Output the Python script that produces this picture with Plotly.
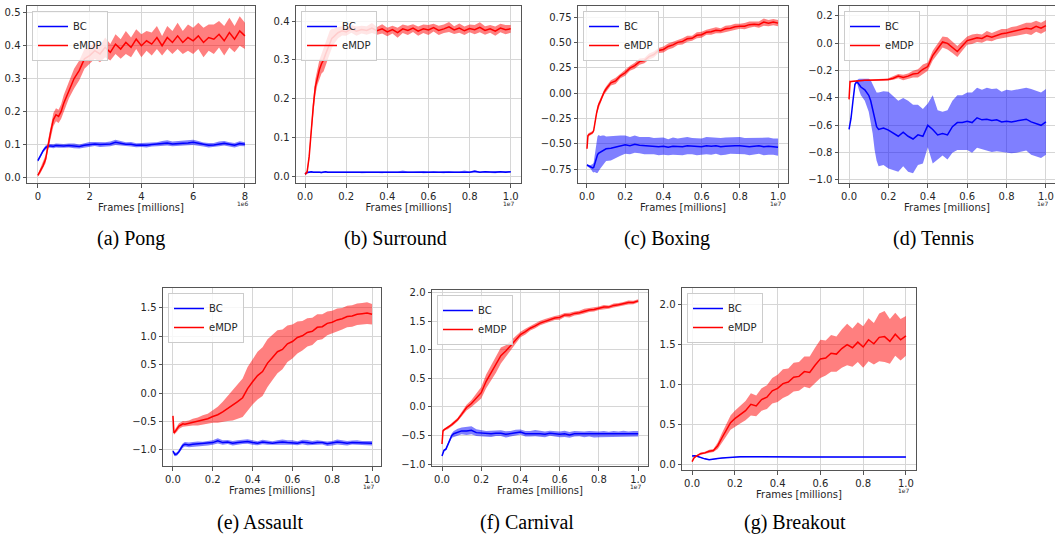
import plotly.graph_objects as go

W, H = 1055, 536

# ---------------- data ----------------
# (a) Pong, x in units of 1e6 frames
pong_x = [0, 0.1, 0.2, 0.3, 0.4, 0.5, 0.6, 0.7, 0.8, 0.9, 1.0,
          1.2, 1.4, 1.6, 1.8, 2.0, 2.2, 2.4, 2.6, 2.8, 3.0, 3.2, 3.4, 3.6, 3.8, 4.0,
          4.2, 4.4, 4.6, 4.8, 5.0, 5.2, 5.4, 5.6, 5.8, 6.0, 6.2, 6.4, 6.6, 6.8, 7.0,
          7.2, 7.4, 7.6, 7.8, 8.0]
pong_emdp = [0.005, 0.02, 0.035, 0.055, 0.10, 0.14, 0.175, 0.19, 0.185, 0.20, 0.225,
             0.265, 0.30, 0.325, 0.36, 0.37, 0.385, 0.375, 0.395, 0.38, 0.405, 0.39, 0.41, 0.395, 0.42,
             0.40, 0.415, 0.405, 0.425, 0.40, 0.425, 0.41, 0.43, 0.41, 0.425, 0.415, 0.43, 0.41, 0.425, 0.42,
             0.435, 0.415, 0.44, 0.42, 0.445, 0.43]
pong_emdp_sd = [0.004, 0.008, 0.01, 0.012, 0.015, 0.018, 0.02, 0.02, 0.02, 0.022, 0.025,
                0.025, 0.03, 0.03, 0.03, 0.025, 0.025, 0.025, 0.03, 0.025, 0.03, 0.03, 0.035, 0.03, 0.03, 0.035,
                0.03, 0.035, 0.035, 0.03, 0.035, 0.035, 0.04, 0.035, 0.04, 0.04, 0.04, 0.045, 0.04, 0.045, 0.04,
                0.045, 0.045, 0.04, 0.045, 0.04]
pong_bc = [0.05, 0.065, 0.08, 0.09, 0.095, 0.095, 0.094, 0.096, 0.095, 0.094, 0.095,
           0.096, 0.095, 0.093, 0.097, 0.10, 0.101, 0.099, 0.10, 0.101, 0.106, 0.103, 0.10, 0.10, 0.097, 0.098,
           0.097, 0.099, 0.10, 0.103, 0.104, 0.101, 0.103, 0.103, 0.104, 0.106, 0.103, 0.099, 0.097, 0.098, 0.101,
           0.103, 0.10, 0.097, 0.102, 0.10]
pong_bc_sd = [0.004, 0.005, 0.005, 0.006, 0.006, 0.006, 0.006, 0.006, 0.006, 0.006, 0.006,
              0.006, 0.007, 0.006, 0.006, 0.007, 0.006, 0.007, 0.006, 0.007, 0.008, 0.007, 0.006, 0.007, 0.006, 0.006,
              0.007, 0.006, 0.006, 0.007, 0.008, 0.007, 0.006, 0.007, 0.007, 0.008, 0.007, 0.006, 0.007, 0.006, 0.007,
              0.007, 0.006, 0.007, 0.007, 0.006]
pong_xticks = [0, 2, 4, 6, 8]
pong_yticks = [0.0, 0.1, 0.2, 0.3, 0.4, 0.5]

# (b) Surround, x in units of 1e7 frames
surr_x = [0, 0.01, 0.02, 0.03, 0.04, 0.05, 0.06, 0.07, 0.08, 0.09, 0.10, 0.11, 0.12, 0.13, 0.14, 0.16, 0.18, 0.20,
          0.225, 0.25, 0.275, 0.3, 0.325, 0.35, 0.375, 0.4, 0.425, 0.45, 0.475, 0.5, 0.525, 0.55, 0.575, 0.6,
          0.625, 0.65, 0.675, 0.7, 0.725, 0.75, 0.775, 0.8, 0.825, 0.85, 0.875, 0.9, 0.925, 0.95, 0.975, 1.0]
surr_emdp = [0.005, 0.01, 0.05, 0.12, 0.18, 0.23, 0.255, 0.275, 0.29, 0.30, 0.315, 0.33, 0.345, 0.355, 0.36, 0.37, 0.375, 0.372,
             0.38, 0.374, 0.378, 0.376, 0.382, 0.375, 0.38, 0.372, 0.378, 0.37, 0.38, 0.376, 0.382, 0.374, 0.38, 0.377,
             0.383, 0.376, 0.38, 0.385, 0.377, 0.382, 0.375, 0.381, 0.378, 0.384, 0.376, 0.38, 0.374, 0.382, 0.378, 0.38]
surr_emdp_sd = [0.003, 0.005, 0.01, 0.015, 0.02, 0.02, 0.02, 0.025, 0.025, 0.03, 0.03, 0.03, 0.03, 0.025, 0.02, 0.015, 0.012, 0.01,
                0.01, 0.012, 0.01, 0.011, 0.013, 0.01, 0.012, 0.011, 0.01, 0.013, 0.011, 0.012, 0.01, 0.012, 0.011, 0.013,
                0.01, 0.012, 0.011, 0.013, 0.01, 0.012, 0.011, 0.01, 0.012, 0.013, 0.011, 0.01, 0.012, 0.011, 0.012, 0.01]
surr_bc = [0.005, 0.009, 0.01, 0.011, 0.01, 0.01, 0.011, 0.01, 0.009, 0.01, 0.011, 0.01, 0.01, 0.011, 0.01, 0.01, 0.011, 0.01,
           0.01, 0.011, 0.01, 0.01, 0.011, 0.01, 0.01, 0.011, 0.01, 0.01, 0.011, 0.01, 0.01, 0.011, 0.01, 0.01,
           0.011, 0.01, 0.01, 0.011, 0.01, 0.01, 0.011, 0.01, 0.012, 0.01, 0.011, 0.01, 0.01, 0.011, 0.01, 0.011]
surr_bc_sd = [0.001, 0.002, 0.002, 0.002, 0.002, 0.002, 0.002, 0.002, 0.002, 0.002, 0.002, 0.002, 0.002, 0.002, 0.002, 0.002, 0.002, 0.002,
              0.002, 0.002, 0.003, 0.002, 0.002, 0.002, 0.003, 0.002, 0.002, 0.002, 0.003, 0.002, 0.002, 0.002, 0.003, 0.002,
              0.002, 0.002, 0.003, 0.002, 0.002, 0.002, 0.003, 0.002, 0.003, 0.002, 0.002, 0.002, 0.003, 0.002, 0.002, 0.002]
surr_yticks = [0.0, 0.1, 0.2, 0.3, 0.4]

frac_xticks = [0.0, 0.2, 0.4, 0.6, 0.8, 1.0]

# (c) Boxing
box_x = [0, 0.005, 0.01, 0.02, 0.03, 0.035, 0.04, 0.045, 0.05, 0.055, 0.06, 0.07, 0.08, 0.09, 0.10,
         0.125, 0.15, 0.175, 0.2, 0.225, 0.25, 0.275, 0.3, 0.325, 0.35, 0.375, 0.4, 0.425, 0.45, 0.475, 0.5,
         0.525, 0.55, 0.575, 0.6, 0.625, 0.65, 0.675, 0.7, 0.725, 0.75, 0.775, 0.8, 0.825, 0.85, 0.875, 0.9,
         0.925, 0.95, 0.975, 1.0]
box_emdp = [-0.55, -0.42, -0.41, -0.40, -0.39, -0.37, -0.30, -0.25, -0.20, -0.16, -0.12, -0.08, -0.03, 0.01, 0.04,
            0.10, 0.12, 0.17, 0.20, 0.245, 0.27, 0.31, 0.32, 0.36, 0.38, 0.42, 0.43, 0.46, 0.475, 0.50, 0.51,
            0.535, 0.54, 0.57, 0.575, 0.60, 0.605, 0.62, 0.615, 0.635, 0.64, 0.655, 0.66, 0.66, 0.675, 0.68, 0.675,
            0.70, 0.69, 0.70, 0.69]
box_emdp_sd = [0.01, 0.015, 0.015, 0.015, 0.015, 0.02, 0.02, 0.02, 0.02, 0.025, 0.025, 0.025, 0.025, 0.025, 0.025,
               0.025, 0.03, 0.025, 0.03, 0.025, 0.03, 0.03, 0.025, 0.03, 0.03, 0.025, 0.03, 0.03, 0.03, 0.025, 0.03,
               0.03, 0.025, 0.03, 0.03, 0.025, 0.03, 0.03, 0.025, 0.03, 0.03, 0.03, 0.025, 0.03, 0.03, 0.025, 0.03,
               0.035, 0.03, 0.03, 0.03]
box_bc = [-0.71, -0.72, -0.72, -0.73, -0.74, -0.735, -0.70, -0.66, -0.63, -0.61, -0.595, -0.585, -0.57, -0.56, -0.55,
          -0.545, -0.535, -0.52, -0.51, -0.52, -0.505, -0.515, -0.52, -0.52, -0.525, -0.53, -0.525, -0.535, -0.525, -0.53, -0.53,
          -0.52, -0.525, -0.53, -0.53, -0.52, -0.525, -0.52, -0.53, -0.525, -0.52, -0.52, -0.52, -0.525, -0.53, -0.525, -0.52,
          -0.53, -0.525, -0.53, -0.535]
box_bc_sd = [0.01, 0.01, 0.01, 0.02, 0.04, 0.05, 0.08, 0.12, 0.16, 0.18, 0.18, 0.16, 0.15, 0.14, 0.12,
             0.12, 0.11, 0.10, 0.09, 0.085, 0.085, 0.08, 0.085, 0.085, 0.08, 0.085, 0.085, 0.08, 0.085, 0.08, 0.085,
             0.085, 0.08, 0.085, 0.08, 0.085, 0.085, 0.08, 0.085, 0.085, 0.08, 0.085, 0.085, 0.08, 0.085, 0.085, 0.08,
             0.085, 0.085, 0.08, 0.085]
box_yticks = [-0.75, -0.5, -0.25, 0.0, 0.25, 0.5, 0.75]

# (d) Tennis
ten_x = [0, 0.005, 0.01, 0.02, 0.03, 0.04, 0.05, 0.06, 0.08, 0.10, 0.11, 0.12, 0.13, 0.14, 0.15,
         0.175, 0.2, 0.225, 0.25, 0.275, 0.3, 0.325, 0.35, 0.375, 0.4, 0.425, 0.45, 0.475, 0.5,
         0.525, 0.55, 0.575, 0.6, 0.625, 0.65, 0.675, 0.7, 0.725, 0.75, 0.775, 0.8, 0.825, 0.85, 0.875, 0.9,
         0.925, 0.95, 0.975, 1.0]
ten_emdp = [-0.41, -0.28, -0.28, -0.278, -0.276, -0.275, -0.274, -0.273, -0.271, -0.27, -0.27, -0.269, -0.268, -0.268, -0.267,
            -0.266, -0.264, -0.255, -0.24, -0.25, -0.24, -0.225, -0.22, -0.19, -0.17, -0.09, -0.04, 0.01, 0.0,
            -0.03, -0.06, -0.02, 0.02, 0.03, 0.04, 0.035, 0.055, 0.045, 0.06, 0.07, 0.075, 0.085, 0.09, 0.10, 0.11,
            0.105, 0.125, 0.11, 0.13]
ten_emdp_sd = [0.005, 0.005, 0.005, 0.005, 0.005, 0.005, 0.005, 0.005, 0.005, 0.005, 0.005, 0.005, 0.005, 0.005, 0.005,
               0.006, 0.008, 0.012, 0.015, 0.02, 0.02, 0.025, 0.03, 0.035, 0.03, 0.035, 0.04, 0.04, 0.045,
               0.04, 0.04, 0.035, 0.03, 0.035, 0.03, 0.03, 0.035, 0.03, 0.03, 0.035, 0.03, 0.035, 0.035, 0.04, 0.04,
               0.045, 0.04, 0.04, 0.04]
ten_bc = [-0.63, -0.60, -0.55, -0.42, -0.30, -0.28, -0.30, -0.32, -0.34, -0.38, -0.42, -0.48, -0.56, -0.61, -0.63,
          -0.62, -0.635, -0.66, -0.68, -0.65, -0.68, -0.70, -0.67, -0.68, -0.60, -0.63, -0.67, -0.66, -0.67,
          -0.61, -0.58, -0.58, -0.57, -0.58, -0.545, -0.56, -0.555, -0.565, -0.56, -0.575, -0.57, -0.575, -0.57, -0.565, -0.555,
          -0.575, -0.59, -0.60, -0.575]
ten_bc_sd = [0.005, 0.01, 0.01, 0.01, 0.01, 0.01, 0.04, 0.06, 0.08, 0.12, 0.15, 0.18, 0.22, 0.25, 0.27,
             0.27, 0.28, 0.27, 0.26, 0.25, 0.26, 0.25, 0.22, 0.2, 0.16, 0.25, 0.18, 0.16, 0.18,
             0.19, 0.2, 0.2, 0.21, 0.22, 0.22, 0.22, 0.23, 0.23, 0.23, 0.22, 0.23, 0.23, 0.23, 0.23, 0.23,
             0.24, 0.24, 0.24, 0.24]
ten_yticks = [-1.0, -0.8, -0.6, -0.4, -0.2, 0.0, 0.2]

# (e) Assault
ass_x = [0, 0.005, 0.01, 0.02, 0.03, 0.04, 0.05, 0.06, 0.08, 0.10,
         0.125, 0.15, 0.175, 0.2, 0.225, 0.25, 0.275, 0.3, 0.325, 0.35, 0.375, 0.4, 0.425, 0.45, 0.475, 0.5,
         0.525, 0.55, 0.575, 0.6, 0.625, 0.65, 0.675, 0.7, 0.725, 0.75, 0.775, 0.8, 0.825, 0.85, 0.875, 0.9,
         0.925, 0.95, 0.975, 1.0]
ass_emdp = [-0.40, -0.70, -0.68, -0.63, -0.58, -0.56, -0.54, -0.545, -0.53, -0.51,
            -0.50, -0.47, -0.45, -0.41, -0.38, -0.33, -0.27, -0.22, -0.15, -0.08, 0.08, 0.20, 0.31, 0.38, 0.53, 0.63,
            0.73, 0.77, 0.87, 0.91, 0.98, 1.01, 1.07, 1.09, 1.16, 1.17, 1.23, 1.25, 1.29, 1.31, 1.35, 1.36,
            1.39, 1.40, 1.41, 1.39]
ass_emdp_sd = [0.02, 0.03, 0.04, 0.05, 0.05, 0.05, 0.05, 0.05, 0.05, 0.06,
               0.07, 0.08, 0.09, 0.11, 0.14, 0.18, 0.22, 0.26, 0.30, 0.34, 0.38, 0.40, 0.42, 0.43, 0.42, 0.40,
               0.38, 0.35, 0.32, 0.30, 0.28, 0.26, 0.25, 0.24, 0.23, 0.22, 0.21, 0.20, 0.20, 0.19, 0.19, 0.19,
               0.19, 0.19, 0.19, 0.18]
ass_bc = [-1.02, -1.06, -1.08, -1.07, -1.03, -0.97, -0.92, -0.90, -0.91, -0.90,
          -0.89, -0.89, -0.88, -0.87, -0.84, -0.87, -0.86, -0.88, -0.87, -0.86, -0.85, -0.87, -0.88, -0.86, -0.87, -0.88,
          -0.87, -0.86, -0.87, -0.87, -0.88, -0.86, -0.87, -0.88, -0.87, -0.87, -0.89, -0.88, -0.86, -0.87, -0.88, -0.87,
          -0.87, -0.88, -0.88, -0.88]
ass_bc_sd = [0.02, 0.03, 0.03, 0.03, 0.03, 0.04, 0.04, 0.04, 0.04, 0.04,
             0.04, 0.035, 0.04, 0.04, 0.045, 0.04, 0.035, 0.04, 0.04, 0.035, 0.04, 0.04, 0.035, 0.04, 0.04, 0.035,
             0.04, 0.045, 0.04, 0.04, 0.035, 0.04, 0.045, 0.04, 0.04, 0.035, 0.04, 0.04, 0.045, 0.04, 0.04, 0.035,
             0.04, 0.04, 0.035, 0.04]
ass_yticks = [-1.0, -0.5, 0.0, 0.5, 1.0, 1.5]

# (f) Carnival
car_x = [0, 0.005, 0.01, 0.02, 0.03, 0.04, 0.05, 0.06, 0.08, 0.10,
         0.125, 0.15, 0.175, 0.2, 0.225, 0.25, 0.275, 0.3, 0.325, 0.35, 0.375, 0.4, 0.425, 0.45, 0.475, 0.5,
         0.525, 0.55, 0.575, 0.6, 0.625, 0.65, 0.675, 0.7, 0.725, 0.75, 0.775, 0.8, 0.825, 0.85, 0.875, 0.9,
         0.925, 0.95, 0.975, 1.0]
car_emdp = [-0.65, -0.42, -0.40, -0.38, -0.36, -0.34, -0.31, -0.28, -0.22, -0.13,
            -0.01, 0.06, 0.15, 0.25, 0.45, 0.60, 0.75, 0.90, 0.98, 1.08, 1.17, 1.27, 1.32, 1.38, 1.42, 1.47,
            1.50, 1.53, 1.56, 1.57, 1.61, 1.61, 1.64, 1.65, 1.68, 1.70, 1.71, 1.73, 1.75, 1.75, 1.78, 1.79,
            1.81, 1.83, 1.83, 1.86]
car_emdp_sd = [0.02, 0.02, 0.02, 0.02, 0.03, 0.03, 0.03, 0.03, 0.03, 0.04,
               0.05, 0.06, 0.08, 0.1, 0.12, 0.13, 0.15, 0.14, 0.1, 0.08, 0.06, 0.05, 0.05, 0.04, 0.04, 0.04,
               0.04, 0.04, 0.035, 0.04, 0.035, 0.04, 0.035, 0.035, 0.04, 0.035, 0.035, 0.03, 0.035, 0.03, 0.035, 0.03,
               0.03, 0.035, 0.03, 0.03]
car_bc = [-0.86, -0.80, -0.76, -0.74, -0.66, -0.57, -0.50, -0.47, -0.44, -0.42,
          -0.42, -0.41, -0.45, -0.46, -0.47, -0.47, -0.46, -0.46, -0.48, -0.47, -0.45, -0.44, -0.47, -0.47, -0.46, -0.47,
          -0.48, -0.46, -0.47, -0.48, -0.47, -0.49, -0.47, -0.47, -0.48, -0.47, -0.48, -0.48, -0.47, -0.48, -0.47, -0.48,
          -0.47, -0.48, -0.47, -0.47]
car_bc_sd = [0.01, 0.01, 0.02, 0.02, 0.03, 0.04, 0.04, 0.05, 0.06, 0.06,
             0.07, 0.07, 0.06, 0.06, 0.05, 0.055, 0.05, 0.05, 0.055, 0.05, 0.05, 0.045, 0.05, 0.05, 0.055, 0.05,
             0.05, 0.045, 0.05, 0.05, 0.055, 0.05, 0.05, 0.045, 0.05, 0.05, 0.055, 0.05, 0.05, 0.045, 0.05, 0.05,
             0.055, 0.05, 0.05, 0.05]
car_yticks = [-1.0, -0.5, 0.0, 0.5, 1.0, 1.5, 2.0]

# (g) Breakout
brk_x = [0, 0.01, 0.02, 0.04, 0.06, 0.08, 0.10, 0.12, 0.14, 0.16, 0.18, 0.20,
         0.225, 0.25, 0.275, 0.3, 0.325, 0.35, 0.375, 0.4, 0.425, 0.45, 0.475, 0.5,
         0.525, 0.55, 0.575, 0.6, 0.625, 0.65, 0.675, 0.7, 0.725, 0.75, 0.775, 0.8, 0.825, 0.85, 0.875, 0.9,
         0.925, 0.95, 0.975, 1.0]
brk_emdp = [0.03, 0.08, 0.10, 0.13, 0.14, 0.16, 0.17, 0.23, 0.33, 0.43, 0.52, 0.57,
            0.62, 0.67, 0.75, 0.73, 0.81, 0.84, 0.92, 0.95, 1.01, 1.03, 1.09, 1.10,
            1.16, 1.15, 1.24, 1.32, 1.33, 1.39, 1.38, 1.45, 1.50, 1.46, 1.53, 1.47, 1.56, 1.51, 1.59, 1.60,
            1.54, 1.63, 1.56, 1.61]
brk_emdp_sd = [0.01, 0.01, 0.01, 0.015, 0.015, 0.02, 0.02, 0.04, 0.06, 0.08, 0.09, 0.10,
               0.11, 0.12, 0.14, 0.13, 0.14, 0.15, 0.16, 0.17, 0.18, 0.17, 0.18, 0.18,
               0.19, 0.2, 0.22, 0.24, 0.22, 0.23, 0.22, 0.24, 0.26, 0.24, 0.25, 0.26, 0.27, 0.26, 0.3, 0.32,
               0.28, 0.27, 0.26, 0.25]
brk_bc = [0.10, 0.105, 0.10, 0.08, 0.065, 0.055, 0.065, 0.07, 0.075, 0.08, 0.085, 0.09,
          0.09, 0.091, 0.09, 0.09, 0.089, 0.088, 0.088, 0.087, 0.087, 0.087, 0.088, 0.088,
          0.089, 0.089, 0.09, 0.09, 0.089, 0.088, 0.087, 0.086, 0.087, 0.087, 0.088, 0.088, 0.087, 0.087, 0.088, 0.087,
          0.087, 0.088, 0.087, 0.087]
brk_bc_sd = [0.005, 0.005, 0.005, 0.004, 0.004, 0.004, 0.004, 0.004, 0.004, 0.004, 0.004, 0.004,
             0.004, 0.004, 0.004, 0.004, 0.004, 0.004, 0.004, 0.004, 0.004, 0.004, 0.004, 0.004,
             0.004, 0.004, 0.004, 0.004, 0.004, 0.004, 0.004, 0.004, 0.004, 0.004, 0.004, 0.004, 0.004, 0.004, 0.004, 0.004,
             0.004, 0.004, 0.004, 0.004]
brk_yticks = [0.0, 0.5, 1.0, 1.5, 2.0]

# ---------------- layout / style ----------------
BLUE, BLUE_FILL = "#0000ff", "rgba(0,0,255,0.5)"
RED, RED_FILL = "#ff0000", "rgba(255,0,0,0.5)"
GRID = "#d6d6d6"
SPINE = "#555555"
TXT = "#262626"
SANS = "DejaVu Sans"

panels = [
    dict(cap="(a) Pong", x=pong_x, bc=pong_bc, bc_sd=pong_bc_sd, em=pong_emdp, em_sd=pong_emdp_sd,
         frame=(27, 255, 6, 183), xr=[-0.42, 8.39], yr=[-0.018, 0.521], xt=pong_xticks, yt=pong_yticks,
         xf="d", yf=".1f", off="1e6", capxy=(131, 238)),
    dict(cap="(b) Surround", x=surr_x, bc=surr_bc, bc_sd=surr_bc_sd, em=surr_emdp, em_sd=surr_emdp_sd,
         frame=(296, 521, 6, 183), xr=[-0.044, 1.05], yr=[-0.018, 0.439], xt=frac_xticks, yt=surr_yticks,
         xf=".1f", yf=".1f", off="1e7", capxy=(395, 238)),
    dict(cap="(c) Boxing", x=box_x, bc=box_bc, bc_sd=box_bc_sd, em=box_emdp, em_sd=box_emdp_sd,
         frame=(578, 788, 6, 183), xr=[-0.047, 1.052], yr=[-0.888, 0.859], xt=frac_xticks, yt=box_yticks,
         xf=".1f", yf=".2f", off="1e7", capxy=(667, 238)),
    dict(cap="(d) Tennis", x=ten_x, bc=ten_bc, bc_sd=ten_bc_sd, em=ten_emdp, em_sd=ten_emdp_sd,
         frame=(839, 1055, 6, 183), xr=[-0.051, 1.046], yr=[-1.022, 0.273], xt=frac_xticks, yt=ten_yticks,
         xf=".1f", yf=".1f", off="1e7", capxy=(933, 238)),
    dict(cap="(e) Assault", x=ass_x, bc=ass_bc, bc_sd=ass_bc_sd, em=ass_emdp, em_sd=ass_emdp_sd,
         frame=(163, 381, 288, 466), xr=[-0.05, 1.045], yr=[-1.282, 1.852], xt=frac_xticks, yt=ass_yticks,
         xf=".1f", yf=".1f", off="1e7", capxy=(260, 522)),
    dict(cap="(f) Carnival", x=car_x, bc=car_bc, bc_sd=car_bc_sd, em=car_emdp, em_sd=car_emdp_sd,
         frame=(432, 648, 290, 466), xr=[-0.051, 1.05], yr=[-1.035, 2.05], xt=frac_xticks, yt=car_yticks,
         xf=".1f", yf=".1f", off="1e7", capxy=(527, 522)),
    dict(cap="(g) Breakout", x=brk_x, bc=brk_bc, bc_sd=brk_bc_sd, em=brk_emdp, em_sd=brk_emdp_sd,
         frame=(682, 916, 288, 470), xr=[-0.047, 1.047], yr=[-0.075, 2.21], xt=frac_xticks, yt=brk_yticks,
         xf=".1f", yf=".1f", off="1e7", capxy=(795, 522)),
]

for p in panels:
    n = len(p["x"])
    for k in ("bc", "bc_sd", "em", "em_sd"):
        assert len(p[k]) == n, (p["cap"], k, len(p[k]), n)

fig = go.Figure()
layout = {}
annotations = []

for i, p in enumerate(panels):
    n = i + 1
    sfx = "" if n == 1 else str(n)
    xa, ya = "x" + sfx, "y" + sfx
    leg = "legend" + sfx
    left, right, top, bottom = p["frame"]
    xs = p["x"]
    for name, m, sd, lc, fc in [("BC", p["bc"], p["bc_sd"], BLUE, BLUE_FILL),
                                ("eMDP", p["em"], p["em_sd"], RED, RED_FILL)]:
        up = [a + b for a, b in zip(m, sd)]
        lo = [a - b for a, b in zip(m, sd)]
        fig.add_trace(go.Scatter(x=xs + xs[::-1], y=up + lo[::-1], fill="toself", fillcolor=fc,
                                 line=dict(width=0), mode="lines", hoverinfo="skip", showlegend=False,
                                 xaxis=xa, yaxis=ya))
        fig.add_trace(go.Scatter(x=xs, y=m, mode="lines", line=dict(color=lc, width=1.5),
                                 name=name, legend=leg, xaxis=xa, yaxis=ya))

    common = dict(showgrid=True, gridcolor=GRID, gridwidth=1, showline=True, mirror=True,
                  linecolor=SPINE, linewidth=1, ticks="outside", ticklen=3.5, tickcolor=SPINE,
                  tickfont=dict(size=10, family=SANS, color=TXT), zeroline=False, automargin=False)
    layout["xaxis" + sfx] = dict(common, domain=[left / W, right / W], range=p["xr"], anchor=ya,
                                 tickvals=p["xt"], tickformat=p["xf"],
                                 title=dict(text="Frames [millions]", font=dict(size=10, family=SANS, color=TXT),
                                            standoff=1))
    layout["yaxis" + sfx] = dict(common, domain=[1 - bottom / H, 1 - top / H], range=p["yr"], anchor=xa,
                                 tickvals=p["yt"], tickformat=p["yf"])
    layout[leg] = dict(x=(left + 5) / W, y=1 - (top + 5) / H, xanchor="left", yanchor="top",
                       bgcolor="rgba(255,255,255,0.8)", bordercolor="#cccccc", borderwidth=1,
                       font=dict(size=10, family=SANS, color=TXT), itemwidth=30, tracegroupgap=0,
                       traceorder="normal")
    annotations.append(dict(text=p["off"], x=(right - 4) / W, y=1 - (bottom + 20) / H, xref="paper", yref="paper",
                            xanchor="right", yanchor="middle", showarrow=False,
                            font=dict(size=6, family=SANS, color=TXT)))
    cx, cy = p["capxy"]
    annotations.append(dict(text=p["cap"], x=cx / W, y=1 - cy / H, xref="paper", yref="paper",
                            xanchor="center", yanchor="middle", showarrow=False,
                            font=dict(size=20, family="Liberation Serif", color="#000000")))

fig.update_layout(**layout)
fig.update_layout(width=W, height=H, margin=dict(l=0, r=0, t=0, b=0), paper_bgcolor="white",
                  plot_bgcolor="white", annotations=annotations, showlegend=True)
fig.write_html("out.html", config={"displayModeBar": False},
               post_script="document.body.style.margin='0';document.body.style.overflow='hidden';")
